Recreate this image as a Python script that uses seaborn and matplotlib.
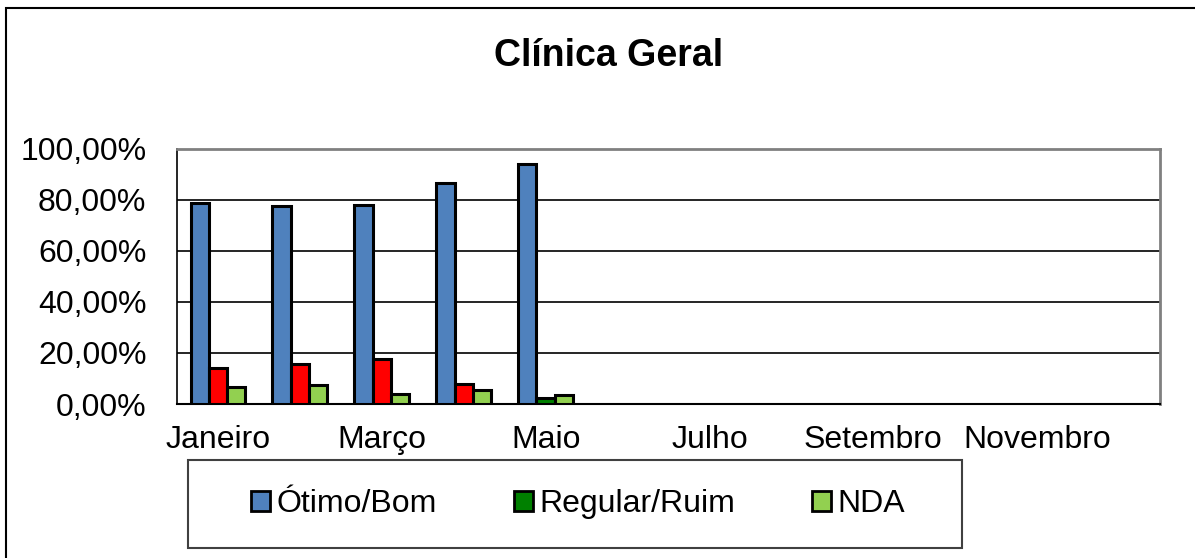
import matplotlib
matplotlib.use('agg')
import matplotlib.pyplot as plt
from matplotlib.patches import Patch, Rectangle
from matplotlib.ticker import FuncFormatter, FixedLocator
import pandas as pd
import seaborn as sns

# dados (percentuais)
meses = ['Janeiro', 'Fevereiro', 'Março', 'Abril', 'Maio', 'Junho',
         'Julho', 'Agosto', 'Setembro', 'Outubro', 'Novembro', 'Dezembro']
series = ['Ótimo/Bom', 'Regular/Ruim', 'NDA']
otimo_bom = [78.7, 77.6, 78.2, 86.8, 94.0]
regular_ruim = [14.0, 15.7, 17.8, 7.8, 2.2]
nda = [6.8, 7.4, 3.9, 5.5, 3.5]
rotulos_x = ['Janeiro', '', 'Março', '', 'Maio', '', 'Julho', '',
             'Setembro', '', 'Novembro', '']

cores = {'Ótimo/Bom': '#4f81bd', 'Regular/Ruim': '#008000', 'NDA': '#92d050'}
# no original as barras de Regular/Ruim de jan-abr foram pintadas de vermelho
cores_regular = ['#ff0000', '#ff0000', '#ff0000', '#ff0000', '#008000']

#----------------------------------------------------------------------------
n = len(otimo_bom)
df = pd.DataFrame({
    'mes': meses[:n] * 3,
    'serie': [series[0]] * n + [series[1]] * n + [series[2]] * n,
    'valor': otimo_bom + regular_ruim + nda,
})

sns.set_style('white')
plt.rcParams['font.family'] = ['Liberation Sans', 'DejaVu Sans']
plt.rcParams['text.color'] = 'black'
plt.rcParams['xtick.color'] = 'black'
plt.rcParams['ytick.color'] = 'black'

fig = plt.figure(figsize=(11.95, 5.58), dpi=100)
ax = fig.add_axes([177/1195, 1-404/558, (1160-177)/1195, (404-149)/558])

sns.barplot(data=df, x='mes', y='valor', hue='serie', order=meses,
            hue_order=series, palette=cores, width=0.67, saturation=1,
            edgecolor='black', linewidth=2.2, legend=False, ax=ax, zorder=3)

for bar, cor in zip(ax.containers[1], cores_regular):
    bar.set_facecolor(cor)

ax.set_xlim(-0.5, len(meses)-0.5)
ax.set_ylim(0, 100)
ax.set_yticks(range(0, 101, 20))
ax.yaxis.set_major_formatter(FuncFormatter(lambda v, p: f"{v:.2f}%".replace('.', ',')))
ax.set_xticks(range(len(meses)))
ax.set_xticklabels(rotulos_x)
ax.xaxis.set_minor_locator(FixedLocator([i-0.5 for i in range(len(meses)+1)]))
ax.tick_params(axis='x', which='major', length=0, labelsize=23, pad=15)
ax.tick_params(axis='x', which='minor', length=8, width=1.2, color='black', direction='out')
ax.tick_params(axis='y', length=8, width=1.2, color='black', direction='out', labelsize=23, pad=14)
ax.set_xlabel('')
ax.set_ylabel('')

for y in range(20, 100, 20):
    ax.axhline(y, color='black', lw=1.2, zorder=1)
ax.spines['top'].set_color('#808080')
ax.spines['top'].set_linewidth(2)
ax.spines['right'].set_color('#808080')
ax.spines['right'].set_linewidth(2)
ax.spines['left'].set_color('black')
ax.spines['left'].set_linewidth(1.2)
ax.spines['bottom'].set_color('black')
ax.spines['bottom'].set_linewidth(1.5)

fig.text(609/1195, 1-56/558, 'Clínica Geral', ha='center', va='center',
         fontsize=27, fontweight='bold', color='black')

# caixa da legenda desenhada a parte
fig.patches.append(Rectangle((188/1195, 1-548/558), (962-188)/1195, (548-460)/558,
                             transform=fig.transFigure, facecolor='white',
                             edgecolor='#404040', linewidth=1.5, zorder=0))
handles = [Patch(facecolor=cores[s], edgecolor='black', linewidth=2) for s in series]
leg = fig.legend(handles, series, loc='center', ncol=3,
                 bbox_to_anchor=(578/1195, 1-504/558),
                 bbox_transform=fig.transFigure, fontsize=23, frameon=False,
                 handlelength=0.6, handleheight=0.6, handletextpad=0.2,
                 columnspacing=2.4)

fig.patches.append(Rectangle((6/1195, -0.05), 1.1, 1-8/558+0.05, transform=fig.transFigure,
                             fill=False, edgecolor='black', linewidth=1.5))

fig.savefig('out.png', dpi=100)
